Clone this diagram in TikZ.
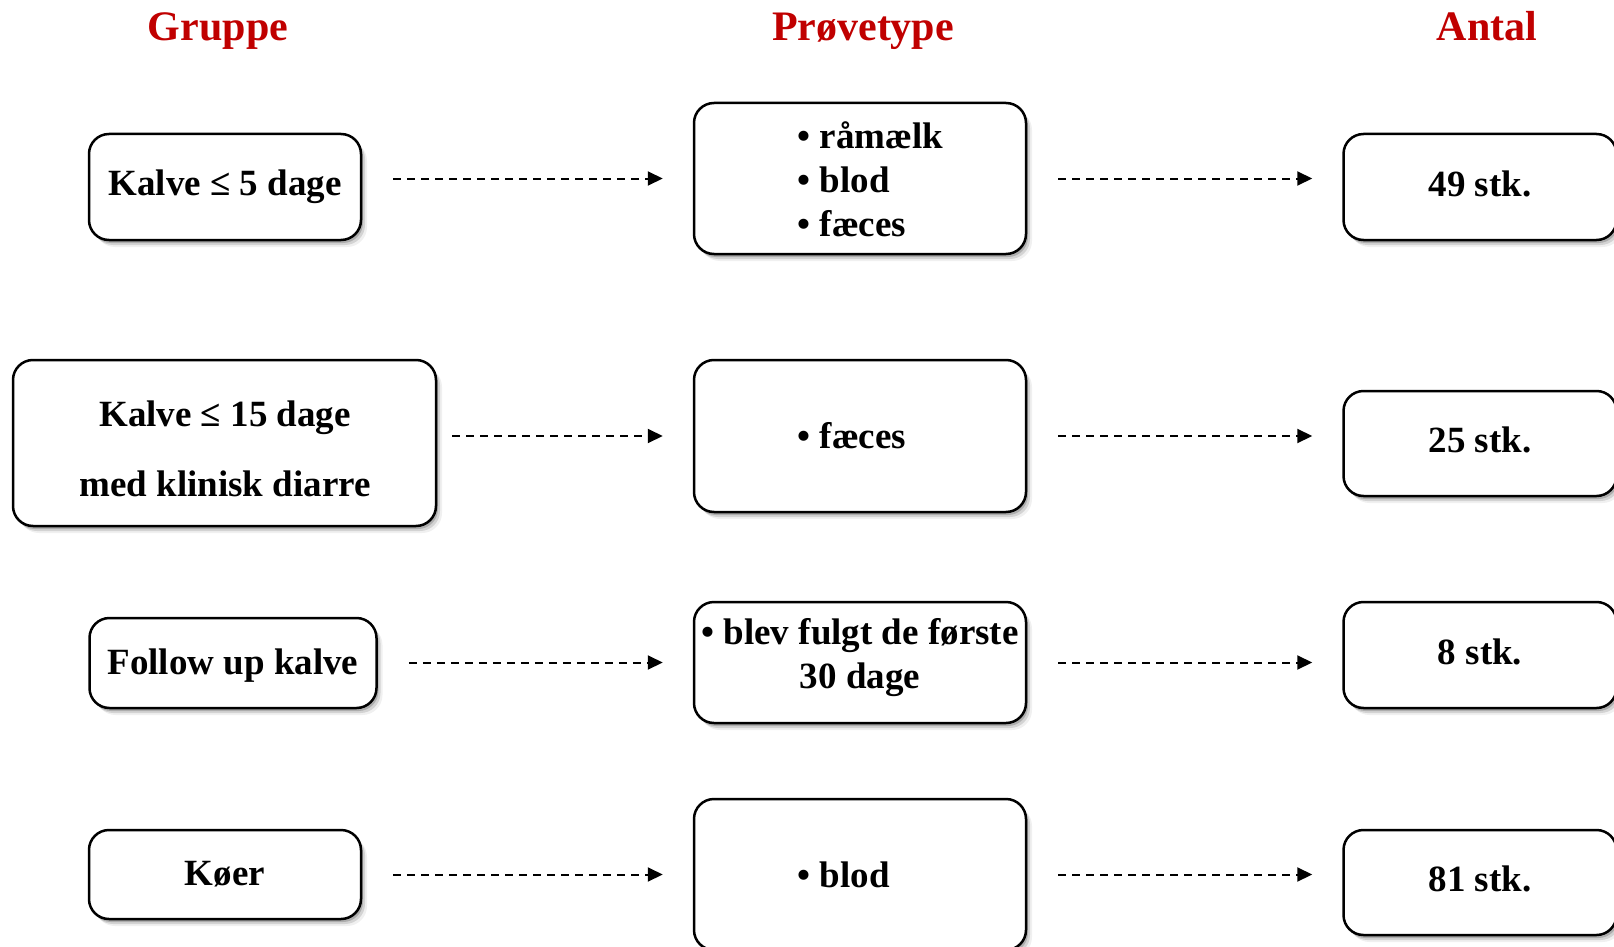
\documentclass[tikz,border=0pt]{standalone}
\usepackage{fontspec}
\setmainfont{Liberation Serif}
\usetikzlibrary{arrows.meta,shadows}
\definecolor{headred}{RGB}{192,0,0}

\begin{document}
\begin{tikzpicture}[x=1pt,y=-1pt,
    every node/.style={font=\fontsize{37}{44}\selectfont\bfseries},
    head/.style={font=\fontsize{42}{50}\selectfont\bfseries,text=headred,anchor=base},
    box/.style={draw,line width=2.5pt,rounded corners=20pt,fill=white,align=center,inner sep=0pt,
      drop shadow={shadow xshift=2pt,shadow yshift=-3pt,fill=black,opacity=.18},
      drop shadow={shadow xshift=4pt,shadow yshift=-5pt,fill=black,opacity=.12},
      drop shadow={shadow xshift=6pt,shadow yshift=-7pt,fill=black,opacity=.06}},
    countbox/.style={box,minimum width=273pt,text depth=7pt},
    flow/.style={-{Triangle[length=15pt,width=14pt]},line width=2pt,
      dash pattern=on 8pt off 6pt,shorten <=31pt,shorten >=30pt}]
  \useasboundingbox (0,0) rectangle (1614,947);

  \node[head] (gh) at (218,41) {Gruppe};
  \node[head] (ph) at (863,41) {Prøvetype};
  \node[head] (ah) at (1487,41) {Antal};

  \node[box,minimum width=272pt,minimum height=106pt] (g1) at (225,187) {Kalve ≤ 5 dage};
  \node[box,minimum width=332pt,minimum height=151pt] (p1) at (860,178.5) {};
  \node[anchor=west,align=left] (p1t) at (794,179.5) {• råmælk\\• blod\\• fæces};
  \node[countbox,minimum height=106pt] (a1) at (1480,187) {49 stk.};
  \draw[flow] (g1.east |- p1.west) -- (p1.west);
  \draw[flow] (p1.east) -- (a1.west |- p1.east);

  \node[box,minimum width=423pt,minimum height=166pt] (g2) at (224.5,443) {};
  \node[align=center] (g2t) at (225,449) {Kalve ≤ 15 dage\\[26pt]med klinisk diarre};
  \node[box,minimum width=332pt,minimum height=152pt] (p2) at (860,436) {};
  \node[anchor=west] (p2t) at (794,436) {• fæces};
  \node[countbox,minimum height=105pt] (a2) at (1480,443.5) {25 stk.};
  \draw[flow,shorten <=15pt] (g2.east |- p2.west) -- (p2.west);
  \draw[flow] (p2.east) -- (a2.west |- p2.east);

  \node[box,minimum width=287pt,minimum height=90pt] (g3) at (233,663) {};
  \node (g3t) at (233,666) {Follow up kalve};
  \node[box,minimum width=332pt,minimum height=121pt] (p3) at (860,662.5) {};
  \node[align=center] (p3t) at (860,658) {• blev fulgt de første\\30 dage};
  \node[countbox,minimum height=106pt] (a3) at (1480,655) {8 stk.};
  \draw[flow] (g3.east |- p3.west) -- (p3.west);
  \draw[flow] (p3.east) -- (a3.west |- p3.east);

  \node[box,minimum width=272pt,minimum height=89pt] (g4) at (225,874.5) {Køer};
  \node[box,minimum width=332pt,minimum height=151pt] (p4) at (860,874.5) {};
  \node[anchor=west] (p4t) at (794,874.5) {• blod};
  \node[countbox,minimum height=105pt] (a4) at (1480,882.5) {81 stk.};
  \draw[flow] (g4.east |- p4.west) -- (p4.west);
  \draw[flow] (p4.east) -- (a4.west |- p4.east);
\end{tikzpicture}
\end{document}
